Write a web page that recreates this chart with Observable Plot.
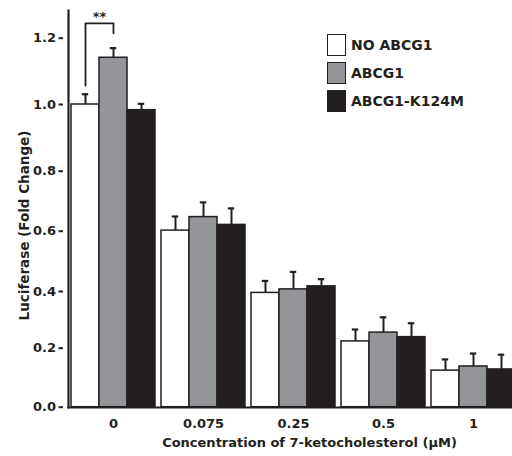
<!DOCTYPE html>
<html>
<head>
<meta charset="utf-8">
<script src="https://cdn.jsdelivr.net/npm/d3@7"></script>
<script src="https://cdn.jsdelivr.net/npm/@observablehq/plot@0.6"></script>
<style>
  html, body { margin: 0; padding: 0; background: #fff; }
  #wrap { position: relative; width: 512px; height: 456px; }
  #legend { position: absolute; left: 327px; top: 34px; font-family: "DejaVu Sans", sans-serif; font-weight: bold; font-size: 14px; color: #231f20; }
  .row { display: flex; align-items: center; height: 22px; margin-bottom: 6px; }
  .sw { width: 17px; height: 20px; border: 1.5px solid #231f20; margin-right: 5px; box-sizing: content-box; }
</style>
</head>
<body>
<div id="wrap"></div>
<script>
const concentrations = ["0", "0.075", "0.25", "0.5", "1"];
const series = ["NO ABCG1", "ABCG1", "ABCG1-K124M"];
const colors = ["#ffffff", "#939598", "#231f20"];

const noAbcg1    = [1.00, 0.602, 0.395, 0.224, 0.124];
const noAbcg1Err = [1.031, 0.649, 0.435, 0.266, 0.162];
const abcg1      = [1.141, 0.647, 0.407, 0.255, 0.138];
const abcg1Err   = [1.170, 0.696, 0.465, 0.309, 0.182];
const k124m      = [0.983, 0.621, 0.417, 0.239, 0.128];
const k124mErr   = [1.002, 0.676, 0.441, 0.288, 0.178];

const yTicks = [0, 0.2, 0.4, 0.6, 0.8, 1.0, 1.2];
// the printed axis is slightly uneven; these are the tick rows as drawn
const yTickRows = [406.7, 347.7, 291, 230.7, 170.7, 104, 37.7];
const yTop = 1.2836, yTopRow = 10;

const bracketSeries = ["NO ABCG1", "NO ABCG1", "ABCG1", "ABCG1"];
const bracketY = [1.057, 1.245, 1.245, 1.215];
const starY = 1.266;

const means = [noAbcg1, abcg1, k124m];
const errs = [noAbcg1Err, abcg1Err, k124mErr];
const data = [];
concentrations.forEach((c, i) => {
  series.forEach((s, j) => data.push({conc: c, series: s, value: means[j][i], err: errs[j][i]}));
});
const bracket = bracketSeries.map((s, i) => ({conc: "0", series: s, y: bracketY[i]}));

const ink = "#231f20";
const chart = Plot.plot({
  width: 512,
  height: 456,
  marginLeft: 63,
  marginRight: 0,
  marginTop: 10,
  marginBottom: 49,
  style: {fontFamily: "DejaVu Sans, sans-serif", fontWeight: "bold", fontSize: "13px", color: ink, background: "#fff"},
  fx: {domain: concentrations, range: [68, 518], paddingInner: 0, paddingOuter: 0, label: null},
  x: {domain: series, paddingInner: 0, paddingOuter: 0.1, axis: null},
  y: {type: "linear", domain: [...yTicks, yTop], range: [...yTickRows, yTopRow]},
  color: {domain: series, range: colors},
  marks: [
    Plot.barY(data, {fx: "conc", x: "series", y: "value", fill: "series", stroke: ink, strokeWidth: 1.5}),
    Plot.ruleX(data, {fx: "conc", x: "series", y1: "value", y2: "err", stroke: ink, strokeWidth: 2}),
    Plot.tickY(data, {fx: "conc", x: "series", y: "err", stroke: ink, strokeWidth: 2.2, insetLeft: 10.8, insetRight: 10.8}),
    Plot.line(bracket, {fx: "conc", x: "series", y: "y", stroke: ink, strokeWidth: 1.8}),
    Plot.text(["**"], {fx: ["0"], x: ["NO ABCG1"], y: [starY], text: d => d, dx: 14, fontSize: 13, fontWeight: "bold", fill: ink}),
    Plot.frame({anchor: "bottom", facet: "super", stroke: ink, strokeWidth: 2.2}),
    Plot.frame({anchor: "left", facet: "super", stroke: ink, strokeWidth: 2.2}),
    Plot.axisY({ticks: yTicks, tickFormat: d => d.toFixed(1), tickSize: 4.5, tickPadding: 3, strokeWidth: 2, stroke: ink, fill: ink, label: null, dx: -5, fontSize: 13, fontWeight: "bold"}),
    Plot.axisFx({anchor: "bottom", tickSize: 0, tickPadding: 11, label: null, fontSize: 13, fontWeight: "bold", fill: ink}),
    Plot.text(["Concentration of 7-ketocholesterol (\u03bcM)"], {facet: "super", frameAnchor: "bottom", textAnchor: "middle", lineAnchor: "middle", dx: 16, dy: 35.5, fontSize: 13, fontWeight: "bold", fill: ink}),
    Plot.text(["Luciferase (Fold Change)"], {facet: "super", frameAnchor: "left", textAnchor: "middle", lineAnchor: "middle", rotate: -90, dx: -44, dy: 16.5, fontSize: 13.5, fontWeight: "bold", fill: ink})
  ]
});

const wrap = document.getElementById("wrap");
wrap.appendChild(chart);
const legend = document.createElement("div");
legend.id = "legend";
series.forEach((s, i) => {
  const row = document.createElement("div");
  row.className = "row";
  const sw = document.createElement("div");
  sw.className = "sw";
  sw.style.background = colors[i];
  const label = document.createElement("span");
  label.textContent = s;
  row.appendChild(sw);
  row.appendChild(label);
  legend.appendChild(row);
});
wrap.appendChild(legend);
</script>
</body>
</html>
